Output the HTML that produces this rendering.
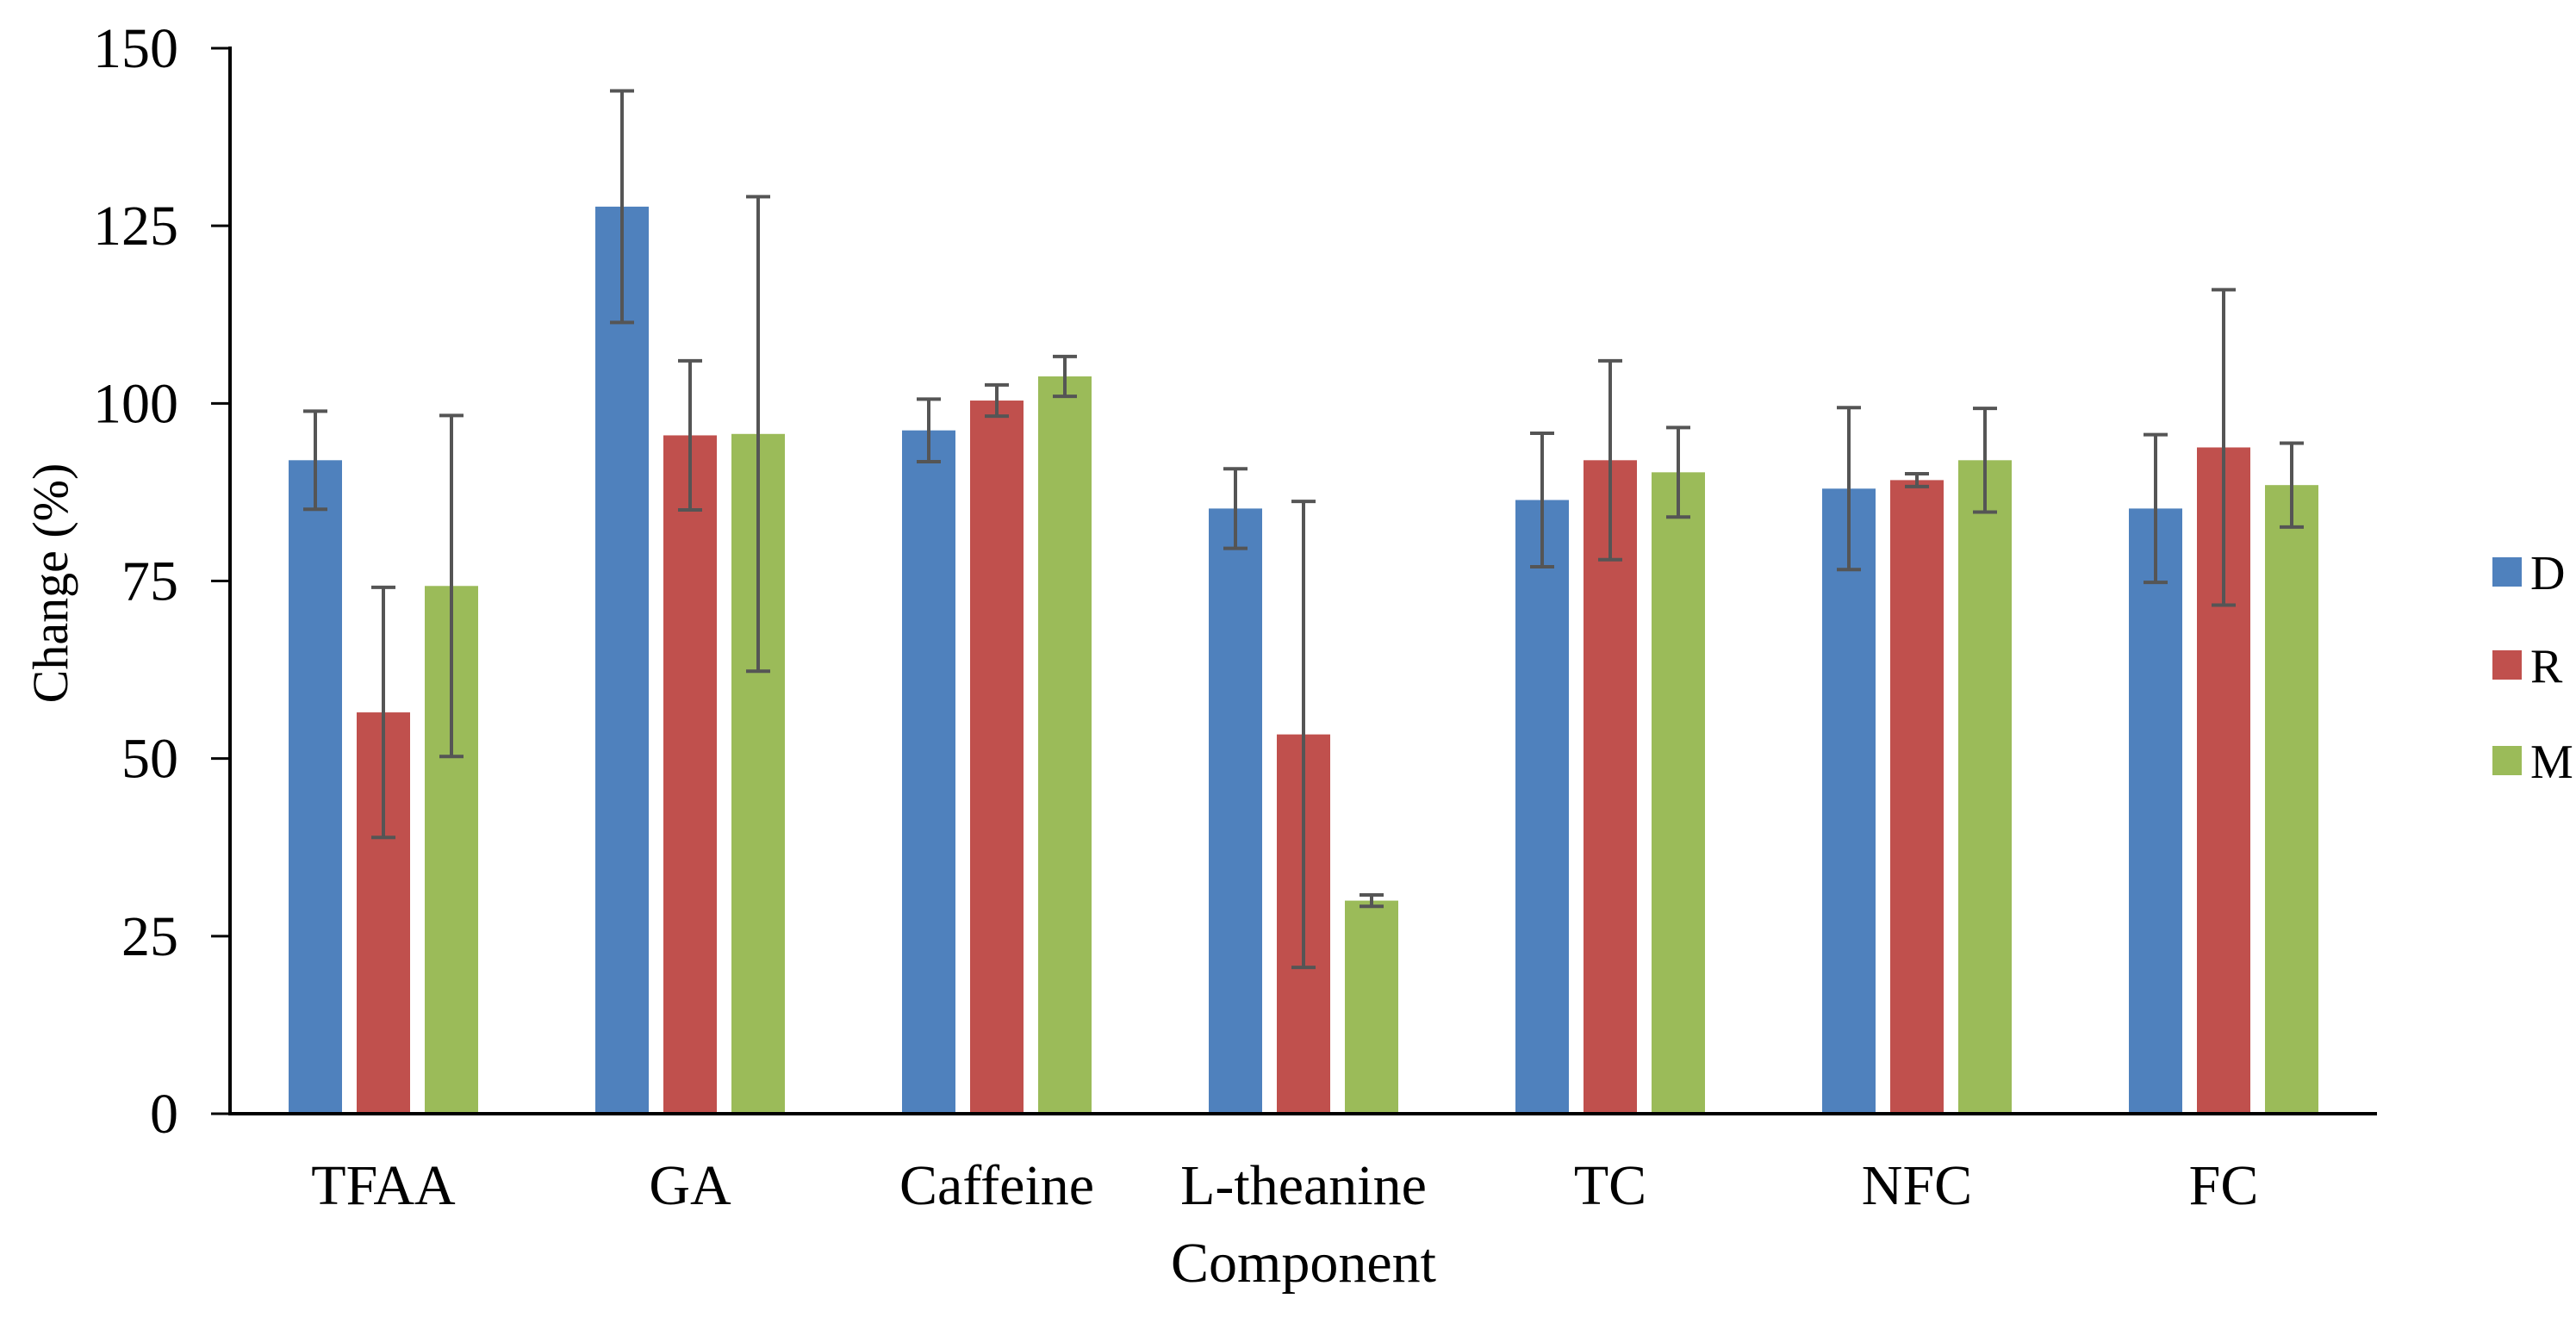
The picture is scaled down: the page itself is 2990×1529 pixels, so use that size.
<!DOCTYPE html>
<html><head><meta charset="utf-8"><style>
html,body{margin:0;padding:0;background:#fff;}
svg{display:block;font-family:"Liberation Serif",serif;}
</style></head><body>
<svg id="chart" width="2990" height="1529" viewBox="0 0 2990 1529">
<rect width="2990" height="1529" fill="#fff"/>
<g id="bars"></g><g id="axes"></g><g id="legend"></g>
</svg>
<script>
const categories=["TFAA","GA","Caffeine","L-theanine","TC","NFC","FC"];
const seriesNames=["D","R","M"];
const valuesD=[92,127.7,96.2,85.2,86.4,88,85.2];
const valuesR=[56.5,95.5,100.4,53.4,92,89.2,93.8];
const valuesM=[74.3,95.7,103.8,30,90.3,92,88.5];
const errD=[6.9,16.3,4.4,5.6,9.4,11.4,10.4];
const errR=[17.6,10.5,2.2,32.8,14,0.9,22.2];
const errM=[24,33.4,2.8,0.8,6.3,7.3,5.9];
const yTicks=[0,25,50,75,100,125,150];
const colors=["#4f81bd","#c0504d","#9bbb59"];
const NS="http://www.w3.org/2000/svg";
const X0=267,X1=2759,Y0=1293,Y150=56;
const yScale=v=>Y0-(v/150)*(Y0-Y150);
const catW=(X1-X0)/categories.length;
const xCenter=i=>X0+catW*(i+0.5);
const barW=62,step=79;
function mk(tag,attrs,parent){const e=document.createElementNS(NS,tag);for(const k in attrs)e.setAttribute(k,attrs[k]);parent.appendChild(e);return e;}
const bars=document.getElementById('bars'),axes=document.getElementById('axes'),legend=document.getElementById('legend');
const allVals=[valuesD,valuesR,valuesM],allErr=[errD,errR,errM];
categories.forEach((c,i)=>{
  allVals.forEach((vals,s)=>{
    const cx=xCenter(i)+(s-1)*step;
    const r=mk('rect',{x:cx-barW/2,y:yScale(vals[i]),width:barW,height:Y0-yScale(vals[i]),fill:colors[s]},bars);
    
    
    const e=allErr[s][i],hi=yScale(vals[i]+e),lo=yScale(vals[i]-e);
    const g=mk('g',{stroke:'#555',"stroke-width":4},bars);
    
    
    mk('line',{x1:cx,x2:cx,y1:hi,y2:lo},g);
    mk('line',{x1:cx-14,x2:cx+14,y1:hi,y2:hi},g);
    mk('line',{x1:cx-14,x2:cx+14,y1:lo,y2:lo},g);
  });
  const t=mk('text',{x:xCenter(i),y:1398,"font-size":66,"text-anchor":"middle",fill:"#000"},axes);
  t.textContent=c;
  
  
});
const ya=mk('line',{x1:X0,x2:X0,y1:Y150-2,y2:Y0+2,stroke:'#000',"stroke-width":4},axes);


const xa=mk('line',{x1:X0-2,x2:X1,y1:Y0,y2:Y0,stroke:'#000',"stroke-width":4},axes);


yTicks.forEach(v=>{
  const y=yScale(v);
  const l=mk('line',{x1:X0-22,x2:X0,y1:y,y2:y,stroke:'#000',"stroke-width":3},axes);
  
  
  const t=mk('text',{x:207,y:y+22,"font-size":66,"text-anchor":"end",fill:"#000"},axes);
  t.textContent=v;
  
  
});
const yt=mk('text',{x:0,y:0,"font-size":58,"text-anchor":"middle",transform:"translate(78,677) rotate(-90)",fill:"#000"},axes);
yt.textContent="Change (%)";


const xt=mk('text',{x:(X0+X1)/2,y:1488,"font-size":66,"text-anchor":"middle",fill:"#000"},axes);
xt.textContent="Component";


const legY=[664,772,883];
seriesNames.forEach((n,s)=>{
  const g=mk('g',{},legend);
  
  
  mk('rect',{x:2893,y:legY[s]-17,width:34,height:34,fill:colors[s]},g);
  const t=mk('text',{x:2937,y:legY[s]+20,"font-size":56,fill:"#000"},g);
  t.textContent=n;
});
</script>
</body></html>
